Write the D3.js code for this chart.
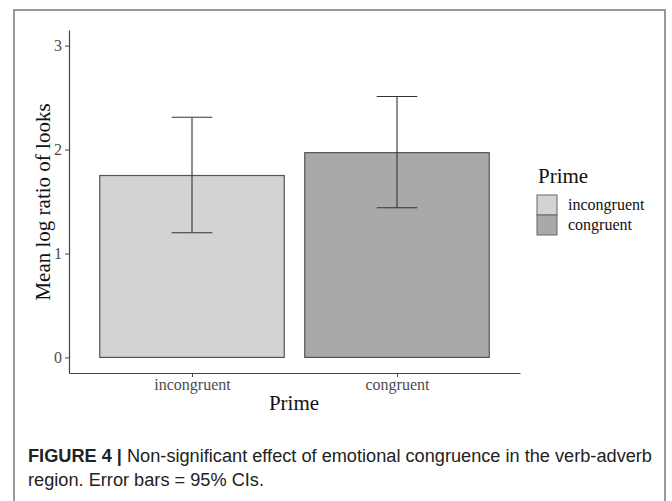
<!DOCTYPE html>
<html>
<head>
<meta charset="utf-8">
<script src="https://cdn.jsdelivr.net/npm/d3@7"></script>
<style>
  body { margin: 0; background: #fff; }
  svg { display: block; }
</style>
</head>
<body>
<svg width="672" height="501"></svg>
<script>
// data
var primes = ["incongruent", "congruent"];
var means = [1.75, 1.97];
var ciLow = [1.20, 1.44];
var ciHigh = [2.31, 2.51];
var fills = ["#d3d3d3", "#a9a9a9"];
var yTicks = [0, 1, 2, 3];

var serif = "'Liberation Serif', 'Times New Roman', serif";
var svg = d3.select("svg");

// outer frame of the figure
svg.append("rect")
  .attr("x", 14).attr("y", 10)
  .attr("width", 651).attr("height", 520)
  .style("fill", "none")
  .style("stroke", "#777")
  .style("stroke-width", "1.5px");

var x = d3.scalePoint().domain(primes).range([69, 520]).padding(0.6);
var y = d3.scaleLinear().domain([-0.15, 3.15]).range([373, 30]);
var barW = x.step() * 0.9;

var rows = primes.map(function(p, i) {
  return {prime: p, mean: means[i], lo: ciLow[i], hi: ciHigh[i], fill: fills[i]};
});

// bars
svg.append("g").selectAll("rect")
  .data(rows).enter()
  .append("rect")
  .attr("x", function(d) { return x(d.prime) - barW / 2; })
  .attr("y", function(d) { return y(d.mean); })
  .attr("width", barW)
  .attr("height", function(d) { return y(0) - y(d.mean); })
  .style("fill", function(d) { return d.fill; })
  .style("stroke", "#555")
  .style("stroke-width", "1.2px");

// error bars
var eb = svg.append("g").selectAll("g")
  .data(rows).enter()
  .append("g")
  .style("stroke", "#333")
  .style("stroke-width", "1.1px");
eb.append("line")
  .attr("x1", function(d) { return x(d.prime); })
  .attr("x2", function(d) { return x(d.prime); })
  .attr("y1", function(d) { return y(d.lo); })
  .attr("y2", function(d) { return y(d.hi); });
eb.selectAll("line.cap")
  .data(function(d) { return [{p: d.prime, v: d.lo}, {p: d.prime, v: d.hi}]; })
  .enter().append("line")
  .attr("class", "cap")
  .attr("x1", function(d) { return x(d.p) - barW * 0.11; })
  .attr("x2", function(d) { return x(d.p) + barW * 0.11; })
  .attr("y1", function(d) { return y(d.v); })
  .attr("y2", function(d) { return y(d.v); });

// axes
var yAxis = svg.append("g")
  .attr("transform", "translate(69,0)")
  .call(d3.axisLeft(y).tickValues(yTicks).tickFormat(d3.format("d"))
    .tickSizeInner(4).tickSizeOuter(0).tickPadding(3));
var xAxis = svg.append("g")
  .attr("transform", "translate(0,373)")
  .call(d3.axisBottom(x).tickSizeInner(4).tickSizeOuter(0).tickPadding(2));

[yAxis, xAxis].forEach(function(ax) {
  ax.select(".domain").style("stroke", "#444").style("stroke-width", "1.2px");
  ax.selectAll(".tick line").style("stroke", "#444");
  ax.selectAll(".tick text")
    .style("font-family", serif)
    .style("font-size", "16px")
    .style("fill", "#4d4d4d");
});

// axis titles
svg.append("text")
  .attr("transform", "translate(50,202) rotate(-90)")
  .attr("text-anchor", "middle")
  .style("font-family", serif)
  .style("font-size", "21px")
  .style("fill", "#111")
  .text("Mean log ratio of looks");
svg.append("text")
  .attr("x", 294).attr("y", 410)
  .attr("text-anchor", "middle")
  .style("font-family", serif)
  .style("font-size", "21px")
  .style("fill", "#111")
  .text("Prime");

// legend
var legend = svg.append("g").attr("transform", "translate(537,0)");
legend.append("text")
  .attr("x", 1).attr("y", 183)
  .style("font-family", serif)
  .style("font-size", "21px")
  .style("fill", "#111")
  .text("Prime");
var key = legend.selectAll("g.key")
  .data(rows).enter()
  .append("g").attr("class", "key")
  .attr("transform", function(d, i) { return "translate(0," + (195 + i * 20) + ")"; });
key.append("rect")
  .attr("width", 20).attr("height", 20)
  .style("fill", function(d) { return d.fill; })
  .style("stroke", "#666")
  .style("stroke-width", "1px");
key.append("text")
  .attr("x", 31).attr("y", 15)
  .style("font-family", serif)
  .style("font-size", "16px")
  .style("fill", "#111")
  .text(function(d) { return d.prime; });

// caption
var capFont = "'Liberation Sans Narrow', 'Liberation Sans', Arial, sans-serif";
var cap1 = svg.append("text")
  .attr("x", 28).attr("y", 462)
  .attr("textLength", 624)
  .attr("lengthAdjust", "spacingAndGlyphs")
  .style("font-family", capFont)
  .style("font-size", "18px")
  .style("fill", "#222");
cap1.append("tspan").style("font-weight", "bold").text("FIGURE 4 | ");
cap1.append("tspan").text("Non-significant effect of emotional congruence in the verb-adverb");
svg.append("text")
  .attr("x", 28).attr("y", 486)
  .attr("textLength", 236)
  .attr("lengthAdjust", "spacingAndGlyphs")
  .style("font-family", capFont)
  .style("font-size", "18px")
  .style("fill", "#222")
  .text("region. Error bars = 95% CIs.");
</script>
</body>
</html>
